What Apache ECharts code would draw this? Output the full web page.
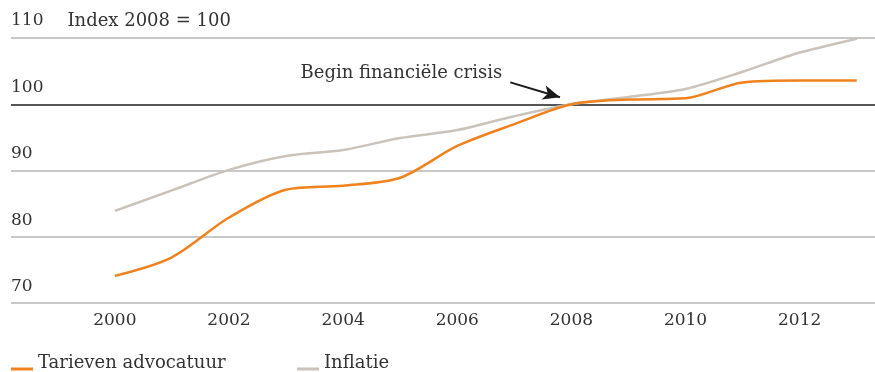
<!DOCTYPE html>
<html>
<head>
<meta charset="utf-8">
<script src="https://cdn.jsdelivr.net/npm/echarts@6/dist/echarts.min.js"></script>
<style>
  html, body { margin: 0; padding: 0; background: #fff; }
  #chart { width: 875px; height: 372px; }
</style>
</head>
<body>
<div id="chart"></div>
<script>
// Index values, 2008 = 100
const years = [2000, 2001, 2002, 2003, 2004, 2005, 2006, 2007, 2008, 2009, 2010, 2011, 2012, 2013];
const tarieven = [74.1, 76.9, 82.9, 87.1, 87.7, 88.9, 93.7, 97.0, 100.0, 100.7, 100.9, 103.3, 103.6, 103.6];
const inflatie = [83.9, 87.0, 90.1, 92.2, 93.1, 94.9, 96.1, 98.2, 100.0, 101.1, 102.3, 104.9, 107.8, 109.9];
const yearTicks = [2000, 2002, 2004, 2006, 2008, 2010, 2012];
const valueTicks = [70, 80, 90, 100, 110];

const FONT = 'DejaVu Serif';
const TEXT = '#333333';
const ORANGE = '#F0821E';
const GREY = '#C9C3BB';

// legend swatch: a short bar near the text baseline (the tiny corner mark only pins the box)
const SWATCH = 'path://M0,12 L22,12 L22,15 L0,15 Z M0,0 L0.02,0 L0,0.02 Z';

const pair = arr => arr.map((v, i) => [years[i], v]);

const chart = echarts.init(document.getElementById('chart'));
chart.setOption({
  animation: false,
  textStyle: { fontFamily: FONT, color: TEXT },
  grid: { left: 11, right: 0, top: 38, bottom: 69, containLabel: false },
  xAxis: {
    type: 'value',
    min: 1998.18,
    max: 2013.32,
    axisLine: { show: false },
    axisTick: { show: false },
    splitLine: { show: false },
    axisLabel: {
      customValues: yearTicks,
      fontFamily: FONT, fontSize: 17, color: TEXT, margin: 9,
      formatter: v => String(v)
    }
  },
  yAxis: {
    type: 'value',
    min: 70, max: 110, interval: 10,
    axisLine: { show: false },
    axisTick: { show: false },
    splitLine: {
      show: true,
      lineStyle: {
        color: valueTicks.map(v => v === 100 ? '#555555' : '#C8C8C8'),
        width: 2
      }
    },
    axisLabel: {
      inside: true,
      align: 'left',
      verticalAlign: 'bottom',
      margin: 0,
      padding: [0, 0, 8, 0],
      fontFamily: FONT, fontSize: 17, color: TEXT,
      formatter: v => v === 110 ? '{n|110}{t|Index 2008 = 100}' : String(v),
      rich: {
        n: { fontFamily: FONT, fontSize: 17, color: TEXT },
        t: { fontFamily: FONT, fontSize: 18, color: TEXT, padding: [0, 0, 0, 24] }
      }
    },
    z: 1
  },
  legend: [
    {
      data: ['Tarieven advocatuur'],
      left: 11, top: 354, padding: 0,
      icon: SWATCH, itemWidth: 22, itemHeight: 15, itemGap: 0,
      textStyle: { fontFamily: FONT, fontSize: 18, color: TEXT }
    },
    {
      data: ['Inflatie'],
      left: 297, top: 354, padding: 0,
      icon: SWATCH, itemWidth: 22, itemHeight: 15, itemGap: 0,
      textStyle: { fontFamily: FONT, fontSize: 18, color: TEXT }
    }
  ],
  series: [
    {
      name: 'Inflatie',
      type: 'line',
      data: pair(inflatie),
      smooth: 0.3,
      symbol: 'none',
      color: GREY,
      lineStyle: { width: 2.5, color: GREY },
      z: 2
    },
    {
      name: 'Tarieven advocatuur',
      type: 'line',
      data: pair(tarieven),
      smooth: 0.3,
      symbol: 'none',
      color: ORANGE,
      lineStyle: { width: 2.5, color: ORANGE },
      z: 3,
      markLine: {
        silent: true,
        symbol: ['none', 'arrow'],
        symbolSize: [11, 17],
        lineStyle: { color: '#1a1a1a', width: 2, type: 'solid' },
        label: { show: false },
        data: [[{ coord: [2006.93, 103.3] }, { coord: [2007.8, 101.05] }]]
      },
      markPoint: {
        silent: true,
        symbol: 'circle',
        symbolSize: 1,
        itemStyle: { color: 'rgba(0,0,0,0)' },
        label: {
          show: true,
          position: 'inside',
          formatter: 'Begin financiële crisis',
          fontFamily: FONT, fontSize: 18, color: TEXT
        },
        data: [{ coord: [2005.02, 104.7] }]
      }
    }
  ]
});
</script>
</body>
</html>
